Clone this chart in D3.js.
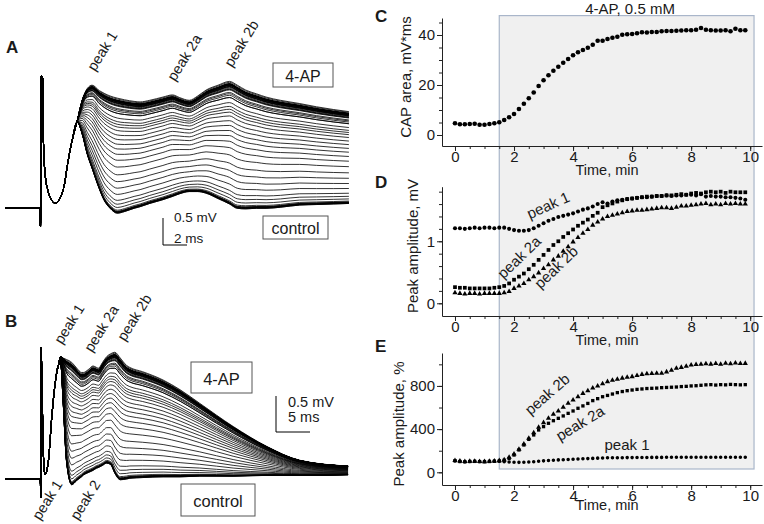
<!DOCTYPE html>
<html><head><meta charset="utf-8">
<script src="https://cdn.jsdelivr.net/npm/d3@7"></script>
<style>body{margin:0;background:#fff}svg{display:block}text{font-family:"Liberation Sans",Arial,sans-serif}</style>
</head><body>
<svg id="fig" width="764" height="524"></svg>
<script>
// ---------- DATA ----------
// sample times (s) of the 60 recordings (every 10 s)
const timeSec = [0,10,20,30,40,50,60,70,80,90,100,110,120,130,140,150,160,170,180,190,200,210,220,230,240,250,260,270,280,290,300,310,320,330,340,350,360,370,380,390,400,410,420,430,440,450,460,470,480,490,500,510,520,530,540,550,560,570,580,590];
// C: CAP area, mV*ms
const capArea = [4.7,4.3,4.3,4.4,4.5,4.1,4.1,4.4,4.7,5.1,6.0,7.1,8.4,10.4,12.5,14.7,17.0,19.6,21.9,23.9,25.7,27.3,28.9,30.4,31.9,33.1,34.0,34.9,36.1,37.7,37.7,38.4,38.9,39.3,40.1,40.3,40.4,40.7,41.1,41.0,41.2,41.2,41.5,41.6,41.6,41.7,41.8,41.9,41.9,42.1,42.8,42.1,41.9,41.8,41.8,41.9,41.5,42.5,41.9,41.9];
// D: peak amplitude, mV
const ampPeak1 = [1.21,1.21,1.20,1.21,1.22,1.21,1.22,1.22,1.21,1.22,1.22,1.20,1.18,1.17,1.17,1.18,1.21,1.25,1.29,1.33,1.36,1.39,1.41,1.43,1.45,1.48,1.51,1.53,1.56,1.60,1.63,1.61,1.64,1.66,1.67,1.68,1.69,1.70,1.71,1.71,1.72,1.73,1.73,1.74,1.73,1.74,1.74,1.75,1.75,1.74,1.76,1.72,1.73,1.72,1.72,1.71,1.71,1.70,1.69,1.67];
const ampPeak2a = [0.26,0.25,0.25,0.24,0.24,0.24,0.24,0.24,0.25,0.26,0.28,0.32,0.38,0.43,0.48,0.55,0.62,0.70,0.78,0.86,0.94,1.00,1.07,1.13,1.19,1.25,1.30,1.35,1.41,1.46,1.55,1.58,1.61,1.64,1.66,1.68,1.69,1.70,1.71,1.72,1.72,1.73,1.73,1.74,1.74,1.75,1.76,1.75,1.77,1.78,1.77,1.79,1.80,1.79,1.80,1.78,1.80,1.79,1.79,1.79];
const ampPeak2b = [0.17,0.16,0.15,0.16,0.16,0.15,0.16,0.16,0.16,0.16,0.17,0.19,0.24,0.28,0.32,0.38,0.43,0.49,0.56,0.62,0.70,0.76,0.84,0.91,0.99,1.06,1.13,1.19,1.26,1.31,1.36,1.40,1.42,1.44,1.46,1.48,1.49,1.50,1.50,1.51,1.52,1.53,1.54,1.54,1.53,1.55,1.57,1.57,1.58,1.59,1.60,1.61,1.59,1.60,1.59,1.61,1.60,1.61,1.60,1.60];
// E: peak amplitude, %
const pctPeak1 = [105,100,98,100,102,100,101,103,104,102,98,95,93,92,93,95,98,102,106,109,112,115,117,119,121,123,125,127,129,131,133,134,134,135,135,136,136,137,137,137,138,138,138,139,139,139,139,140,140,140,140,140,140,140,140,140,140,139,139,139];
const pctPeak2a = [108,100,97,100,101,99,98,100,102,105,112,128,160,207,253,305,346,392,423,454,478,500,522,546,568,593,615,638,664,682,700,712,725,738,748,756,762,768,772,776,778,780,784,786,788,790,794,796,800,802,806,810,812,808,812,810,814,812,810,812];
const pctPeak2b = [110,104,100,103,102,100,99,102,104,108,115,139,170,213,262,315,367,417,460,500,537,568,602,639,670,700,731,756,781,800,820,840,852,862,872,880,886,896,907,912,915,918,917,930,945,963,972,982,994,998,1000,1005,1002,1008,1000,1010,1005,1012,1008,1009];
const drugStart = 1.5, drugEnd = 10.13;
const xTickLabels = [0,2,4,6,8,10];
const cTickLabels = [0,20,40], dTickLabels = [0,1], eTickLabels = [0,400,800];

// A: CAP traces (time ms, mV) — control and 4-AP
const tA    = [-2.95,-0.05,0,0.05,0.18,0.25,0.4,0.6,0.85,1.25,1.67,2.0,2.22,2.64,3.06,3.47,3.9,4.3,4.9,5.3,5.8,6.4,7.0,7.8,8.3,9.1,10.2,11.0,11.6,12.4,13.1,13.8,14.8,15.75,16.4,17.1,18.0,18.8,20.0,21.6,23.0,24.4,25.7];
const ctrlA = [0,0,-0.33,2.45,2.4,1.2,0.6,0.35,0.18,0.09,0.21,0.45,0.77,1.26,1.60,1.38,1.0,0.74,0.36,0.15,0.0,-0.09,-0.06,0.0,0.03,0.09,0.16,0.22,0.27,0.31,0.31,0.28,0.18,0.08,0.0,-0.01,0.0,0.0,0.02,0.06,0.07,0.08,0.09];
const apA   = [0,0,-0.33,2.45,2.4,1.2,0.6,0.35,0.18,0.09,0.21,0.45,0.77,1.26,1.62,2.0,2.22,2.28,2.18,2.13,2.08,2.04,2.01,1.98,1.97,2.0,2.06,2.1,2.05,2.0,2.08,2.19,2.28,2.35,2.28,2.19,2.12,2.06,2.0,1.94,1.88,1.83,1.79];
// B
const tB    = [-5.2,-0.05,0,0.05,0.19,0.38,0.63,1.12,1.62,2.1,2.6,2.94,3.3,3.8,4.56,5.3,6.0,6.3,7.0,7.7,8.2,8.5,9.1,9.7,10.3,10.9,11.7,12.6,13.1,15.0,18.0,20.5,23.4,28.3,33.3,38.1,45.2];
const ctrlB = [0,0,-0.26,1.83,1.3,0.38,0.065,0.24,0.85,1.31,1.58,1.60,1.07,0.24,-0.08,-0.02,0.03,0.056,0.09,0.12,0.15,0.16,0.19,0.22,0.2,0.08,-0.01,0.0,0.01,0.02,0.03,0.03,0.04,0.04,0.05,0.05,0.06];
const apB   = [0,0,-0.26,1.83,1.3,0.38,0.065,0.24,0.85,1.31,1.58,1.70,1.68,1.66,1.62,1.54,1.48,1.48,1.52,1.57,1.55,1.54,1.62,1.70,1.74,1.76,1.68,1.58,1.55,1.49,1.375,1.24,1.05,0.73,0.45,0.26,0.18];

// ---------- DRAW ----------
const svg = d3.select('#fig');
const FONT = '"Liberation Sans",Arial,sans-serif';
const tMin = timeSec.map(s => s/60);

// shaded drug period
const x = d3.scaleLinear().domain([-0.44, 10.4]).range([442, 762]);
svg.append('rect').attr('x', x(drugStart)).attr('y', 15.6)
  .attr('width', x(drugEnd)-x(drugStart)).attr('height', 469-15.6)
  .attr('fill', '#f0f0f0').attr('stroke', '#a9b6ca').attr('stroke-width', 1.2);

const yC = d3.scaleLinear().domain([-4.4, 46.8]).range([146, 18]);
const yD = d3.scaleLinear().domain([-0.205, 1.88]).range([316, 186.7]);
const yE = d3.scaleLinear().domain([-117.6, 1105]).range([485, 353]);

function styleAxis(g){
  g.attr('font-family', FONT).attr('font-size', 15);
  g.selectAll('text').attr('fill', '#1a1a1a');
  g.selectAll('line,path').attr('stroke', '#222');
}
function panelAxes(y, minorTicks, majorTicks){
  const x0 = 442, yb = y.range()[0];
  svg.append('g').attr('transform', `translate(${x0},0)`)
    .call(d3.axisLeft(y).tickValues(minorTicks).tickSize(3).tickSizeOuter(0).tickFormat(''))
    .call(styleAxis);
  svg.append('g').attr('transform', `translate(${x0},0)`)
    .call(d3.axisLeft(y).tickValues(majorTicks).tickSize(5).tickSizeOuter(0).tickPadding(2).tickFormat(d3.format('~g')))
    .call(styleAxis).call(g => g.select('.domain').remove());
  svg.append('g').attr('transform', `translate(0,${yb})`)
    .call(d3.axisBottom(x).tickValues(d3.range(0, 10.01, 0.5)).tickSize(3).tickSizeOuter(0).tickFormat(''))
    .call(styleAxis);
  svg.append('g').attr('transform', `translate(0,${yb})`)
    .call(d3.axisBottom(x).tickValues(xTickLabels).tickSize(5).tickPadding(0).tickFormat(d3.format('~g')))
    .call(styleAxis).call(g => g.select('.domain').remove());
}
panelAxes(yC, d3.range(0, 46, 5), cTickLabels);
panelAxes(yD, d3.range(0, 1.81, 0.2), dTickLabels);
panelAxes(yE, d3.range(0, 1001, 200), eTickLabels);

function marks(y, vals, type, size){
  svg.append('g').selectAll('path').data(vals).join('path')
    .attr('transform', (v,i) => `translate(${x(tMin[i])},${y(v)})`)
    .attr('d', d3.symbol().type(type).size(size)())
    .attr('fill', '#000');
}
marks(yC, capArea, d3.symbolCircle, 17);
marks(yD, ampPeak1, d3.symbolCircle, 13);
marks(yD, ampPeak2a, d3.symbolSquare, 14);
marks(yD, ampPeak2b, d3.symbolTriangle, 12);
marks(yE, pctPeak1, d3.symbolCircle, 10);
marks(yE, pctPeak2a, d3.symbolSquare, 11);
marks(yE, pctPeak2b, d3.symbolTriangle, 12);

function txt(s, xx, yy, opts={}){
  const t = svg.append('text').text(s).attr('font-family', FONT)
    .attr('font-size', opts.size || 15).attr('fill', opts.fill || '#1a1a1a')
    .attr('text-anchor', opts.anchor || 'start')
    .attr('transform', `translate(${xx},${yy}) rotate(${opts.rot||0})`);
  if (opts.bold) t.attr('font-weight', 'bold');
  if (opts.mid) t.attr('dominant-baseline', 'central');
  return t;
}
txt('4-AP, 0.5 mM', 630, 13.5, {anchor:'middle', size:15});
txt('CAP area, mV*ms', 405, 77, {anchor:'middle', rot:-90, mid:true});
txt('Peak amplitude, mV', 412, 246, {anchor:'middle', rot:-90, mid:true});
txt('Peak amplitude, %', 398, 424, {anchor:'middle', rot:-90, mid:true});
txt('Time, min', 607, 175, {anchor:'middle', size:14.5});
txt('Time, min', 607, 345, {anchor:'middle', size:14.5});
txt('Time, min', 607, 510, {anchor:'middle', size:14.5});
txt('C', 375, 22, {bold:true, size:17});
txt('D', 375, 188, {bold:true, size:17});
txt('E', 375, 352, {bold:true, size:17});
txt('A', 6, 53, {bold:true, size:17});
txt('B', 5, 327, {bold:true, size:17});
// peak labels D
txt('peak 1', 548, 205, {anchor:'middle', rot:-24, mid:true});
txt('peak 2a', 519, 257, {anchor:'middle', rot:-44, mid:true});
txt('peak 2b', 556, 267, {anchor:'middle', rot:-44, mid:true});
// peak labels E
txt('peak 2b', 547, 394, {anchor:'middle', rot:-41, mid:true});
txt('peak 2a', 580, 423, {anchor:'middle', rot:-31, mid:true});
txt('peak 1', 627, 444, {anchor:'middle', mid:true});

// ---------- traces ----------
const capLo = d3.min(capArea), capHi = d3.max(capArea);
const frac = capArea.map(v => (v - capLo) / (capHi - capLo));
function traces(t, ctrl, ap, xs, ys){
  const g = svg.append('g');
  const line = d3.line().x(d => xs(d[0])).y(d => ys(d[1])).curve(d3.curveMonotoneX);
  frac.forEach(f => {
    const pts = t.map((tt, j) => [tt, ctrl[j] + f * (ap[j] - ctrl[j])]);
    g.append('path').attr('d', line(pts)).attr('fill', 'none')
      .attr('stroke', '#000').attr('stroke-width', 0.8);
  });
}
const xA = d3.scaleLinear().domain([0, 1]).range([40.5, 52.5]);
const yA = d3.scaleLinear().domain([0, 1]).range([208.3, 154.3]);
const xB = d3.scaleLinear().domain([0, 1]).range([40.7, 47.5]);
const yB = d3.scaleLinear().domain([0, 1]).range([479, 407]);
traces(tA, ctrlA, apA, xA, yA);
traces(tB, ctrlB, apB, xB, yB);

// scale bars
function scaleBar(xs, ys, x0, y0, ms, mv){
  const w = xs(ms) - xs(0), h = ys(0) - ys(mv);
  svg.append('path').attr('d', `M${x0},${y0-h}V${y0}H${x0+w}`)
    .attr('fill', 'none').attr('stroke', '#000').attr('stroke-width', 1);
}
scaleBar(xA, yA, 163, 245, 2, 0.5);
txt('0.5 mV', 174, 222, {size:13.5});
txt('2 ms', 174, 243, {size:13.5});
scaleBar(xB, yB, 276, 432, 5, 0.5);
txt('0.5 mV', 288, 407, {size:14.5});
txt('5 ms', 288, 422, {size:14.5});

// boxes
function box(x0, y0, w, h, label, size){
  svg.append('rect').attr('x', x0).attr('y', y0).attr('width', w).attr('height', h)
    .attr('fill', '#fff').attr('stroke', '#555').attr('stroke-width', 1);
  txt(label, x0 + w/2, y0 + h/2 + 1, {anchor:'middle', mid:true, size});
}
box(273, 63, 60, 24, '4-AP', 16);
box(263, 216, 65, 23, 'control', 16);
box(191, 362, 61, 31, '4-AP', 16.5);
box(181, 484, 74, 32, 'control', 16.5);

// rotated peak labels A/B
const rot = -58;
txt('peak 1', 95, 72, {rot, size:14.5});
txt('peak 2a', 175, 82, {rot, size:14.5});
txt('peak 2b', 232, 68, {rot, size:14.5});
txt('peak 1', 62, 345, {rot, size:14.5});
txt('peak 2a', 92, 353, {rot, size:14.5});
txt('peak 2b', 125, 342, {rot, size:14.5});
txt('peak 1', 40, 521, {rot, size:14.5});
txt('peak 2', 78, 521, {rot, size:14.5});
</script>
</body></html>
